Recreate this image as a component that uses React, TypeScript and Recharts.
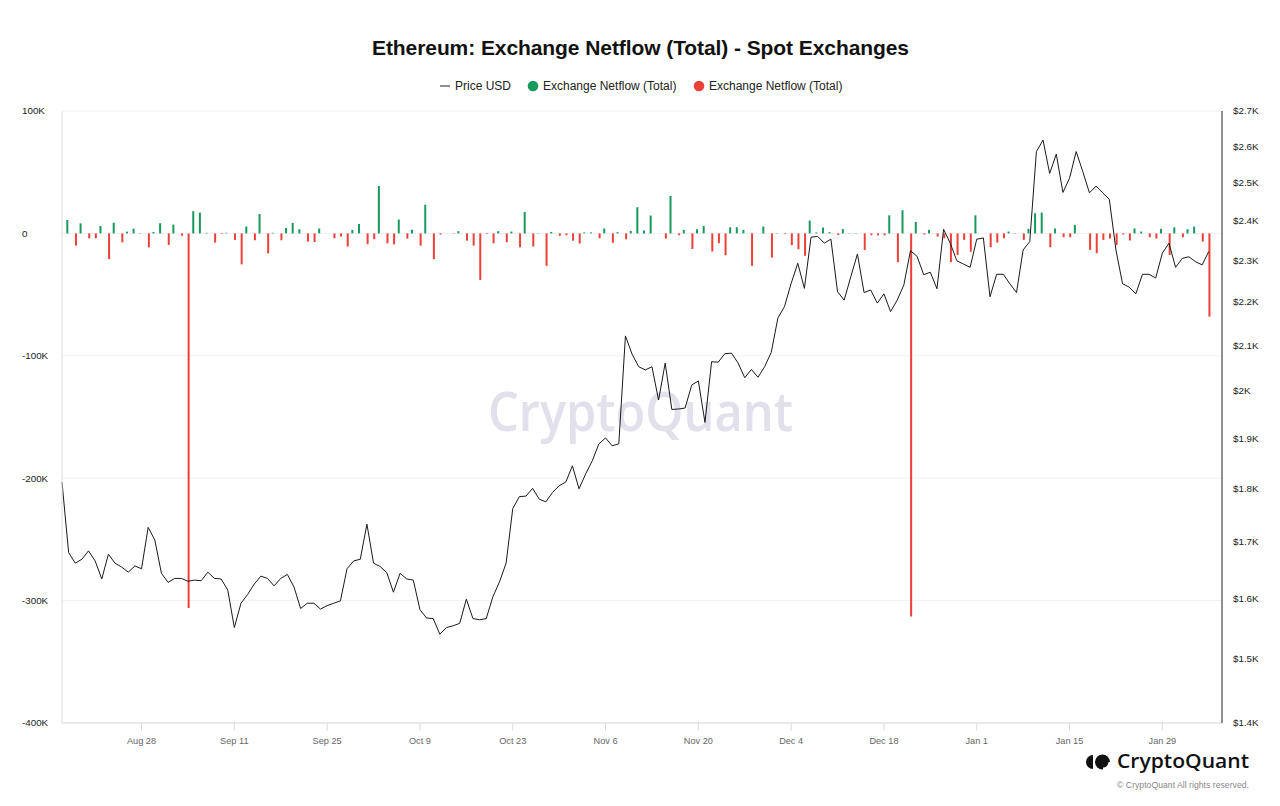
import React from 'react';
import { ComposedChart, Line, Bar, XAxis, YAxis, CartesianGrid } from 'recharts';

// Day index 0 = Aug 16, 2023 (daily data through Feb 5, 2024)
const priceUsd: number[] = [
  1813, 1681, 1662, 1669, 1684, 1666, 1634, 1678, 1662, 1655,
  1646, 1657, 1652, 1727, 1704, 1644, 1628, 1635, 1635, 1630,
  1632, 1631, 1646, 1635, 1634, 1615, 1551, 1592, 1607, 1625,
  1639, 1635, 1622, 1635, 1642, 1620, 1583, 1592, 1592, 1582,
  1588, 1592, 1596, 1652, 1666, 1669, 1733, 1662, 1656, 1645,
  1611, 1644, 1634, 1632, 1581, 1567, 1566, 1540, 1551, 1554,
  1558, 1599, 1566, 1564, 1566, 1603, 1629, 1662, 1762, 1785,
  1786, 1801, 1780, 1775, 1793, 1806, 1813, 1845, 1800, 1829,
  1855, 1889, 1901, 1885, 1889, 2121, 2080, 2052, 2045, 2052,
  1980, 2060, 1960, 1961, 1963, 2012, 2021, 1933, 2063, 2062,
  2081, 2082, 2060, 2028, 2046, 2029, 2052, 2084, 2162, 2189,
  2244, 2293, 2232, 2358, 2360, 2343, 2353, 2224, 2204, 2260,
  2316, 2222, 2228, 2197, 2219, 2177, 2204, 2240, 2324, 2310,
  2265, 2271, 2231, 2378, 2343, 2299, 2291, 2283, 2353, 2356,
  2212, 2266, 2266, 2243, 2222, 2326, 2347, 2585, 2617, 2525,
  2578, 2474, 2512, 2585, 2530, 2473, 2491, 2473, 2456, 2326,
  2243, 2235, 2219, 2266, 2266, 2257, 2318, 2343, 2283, 2305,
  2309, 2297, 2289, 2322,
];

const netflowTotal: (number | null)[] = [
  null, 10900, -10000, 8200, -4000, -4000, 6000, -21000, 8700, -7300,
  1400, 3800, 300, -11400, 1200, 8300, -9400, 7200, -2000, -306000,
  18200, 17000, 500, -7500, -500, 500, -5300, -25300, 5600, -5600,
  15800, -16300, 500, -5600, 4500, 8600, 3400, -6700, -7000, 4000,
  0, -4000, -2600, -10800, 2900, 7700, -8800, -4800, 38700, -8000,
  -9000, 11300, -4200, 2900, -10000, 23400, -21000, -1000, 0, -300,
  1800, -5900, -10000, -38000, -500, -8000, 1800, -7200, 1500, -11300,
  17600, -10700, 300, -26500, 1200, -2000, -1500, -6000, -8300, 800,
  800, -4000, 4000, -7700, 1000, -4800, 2000, 21400, 2300, 14600,
  0, -4200, 30600, -1500, 2900, -12700, 3400, 6100, -14800, -8000,
  -17800, 5000, 5000, 2900, -26500, 0, 5600, -19700, 300, -500,
  -9600, -12900, -18300, 10500, 800, 4800, 1000, -1300, 3500, 300,
  300, -13500, -1500, -1500, -1500, 14800, -23500, 18900, -313000, 9400,
  -1000, 2900, -2600, -4000, -23500, -17600, -5300, -15000, 14800, 0,
  -11300, -7500, -4000, 1500, 300, -5300, 3700, 16500, 17000, -11300,
  4000, -3100, -3100, 7000, 0, -13500, -16200, -5300, -4200, -9400,
  -1000, -5800, 4000, 1500, -3100, -4200, 3700, -17600, 5000, -3100,
  3400, 5600, -6700, -68000,
];

const xTickDays: number[] = [12, 26, 40, 54, 68, 82, 96, 110, 124, 138, 152, 166];
const xTickLabels: string[] = [
  'Aug 28', 'Sep 11', 'Sep 25', 'Oct 9', 'Oct 23', 'Nov 6',
  'Nov 20', 'Dec 4', 'Dec 18', 'Jan 1', 'Jan 15', 'Jan 29',
];
const leftTicks: number[] = [-400000, -300000, -200000, -100000, 0, 100000];
const rightTicks: number[] = [1400, 1500, 1600, 1700, 1800, 1900, 2000, 2100, 2200, 2300, 2400, 2500, 2600, 2700];

const GREEN = '#17985c';
const RED = '#ea4038';
const FONT = '"Liberation Sans", Arial, Helvetica, sans-serif';

const data = priceUsd.map((p, i) => {
  const v = netflowTotal[i];
  return {
    day: i,
    price: p,
    inflow: v != null && v > 0 ? v : null,
    outflow: v != null && v < 0 ? v : null,
  };
});

const fmtLeft = (v: number) => (v === 0 ? '0' : `${v / 1000}K`);
const fmtRight = (v: number) => `$${v / 1000}K`;

const LeftTick = (props: any) => (
  <text x={22} y={props.y} dy={3.4} textAnchor="start" fontSize={9.8} fill="#222" fontFamily={FONT}>
    {fmtLeft(props.payload.value)}
  </text>
);

const RightTick = (props: any) => (
  <text x={1233} y={props.y} dy={3.4} textAnchor="start" fontSize={9.8} fill="#222" fontFamily={FONT}>
    {fmtRight(props.payload.value)}
  </text>
);

const BottomTick = (props: any) => {
  const idx = xTickDays.indexOf(props.payload.value);
  return (
    <text x={props.x} y={744} textAnchor="middle" fontSize={9.2} fill="#666" fontFamily={FONT}>
      {idx >= 0 ? xTickLabels[idx] : ''}
    </text>
  );
};

const Backdrop = () => (
  <svg width={1280} height={806} style={{ position: 'absolute', left: 0, top: 0 }}>
    <text x={640.5} y={55} textAnchor="middle" fontSize={21} fontWeight={700} fill="#111" fontFamily={FONT}
      textLength={537} lengthAdjust="spacing">
      Ethereum: Exchange Netflow (Total) - Spot Exchanges
    </text>
    {/* legend */}
    <line x1={440} y1={86} x2={450} y2={86} stroke="#222" strokeWidth={1} />
    <text x={455} y={90.3} fontSize={12} fill="#222" fontFamily={FONT}>Price USD</text>
    <circle cx={533} cy={86} r={5.3} fill={GREEN} />
    <text x={543} y={90.3} fontSize={12} fill="#222" fontFamily={FONT}>Exchange Netflow (Total)</text>
    <circle cx={699} cy={86} r={5.3} fill={RED} />
    <text x={709} y={90.3} fontSize={12} fill="#222" fontFamily={FONT}>Exchange Netflow (Total)</text>
    {/* watermark */}
    <text x={640.5} y={431} textAnchor="middle" fontSize={54} fontWeight={600} fill="#e1e0eb" fontFamily='"Open Sans", sans-serif'
      textLength={305} lengthAdjust="spacingAndGlyphs">
      CryptoQuant
    </text>
    {/* logo */}
    <path d="M1093,755 A7,7 0 0 0 1093,769 Z" fill="#111" />
    <circle cx={1102.5} cy={762} r={7.5} fill="#111" />
    <path d="M1103,762 L1111,762 L1111,770 L1103,770 Z" fill="#fff" />
    <path d="M1103,762 L1108.5,762 A5.5,5.5 0 0 1 1103,767.5 Z" fill="#111" />
    <text x={1249} y={768} textAnchor="end" fontSize={19} fontWeight={600} fill="#111"
      fontFamily='"Open Sans", sans-serif' textLength={132} lengthAdjust="spacingAndGlyphs">
      CryptoQuant
    </text>
    <text x={1249} y={788} textAnchor="end" fontSize={8.7} fill="#888" fontFamily={FONT}>
      © CryptoQuant All rights reserved.
    </text>
  </svg>
);

export default function App() {
  return (
    <div style={{ position: 'absolute', left: 0, top: 0, width: 1280, height: 806, background: '#fff', overflow: 'hidden' }}>
      <Backdrop />
      <div style={{ position: 'absolute', left: 0, top: 0 }}>
        <ComposedChart
          width={1280}
          height={806}
          data={data}
          margin={{ top: 111, right: 0, bottom: 0, left: 0 }}
          barGap={0}
        >
          <CartesianGrid yAxisId="left" vertical={false} stroke="#f1f1f3" />
          <XAxis
            dataKey="day"
            type="number"
            domain={[0, 175]}
            ticks={xTickDays}
            interval={0}
            height={83}
            axisLine={{ stroke: '#dcdcdc' }}
            tickLine={{ stroke: '#dcdcdc' }}
            tickSize={8}
            tick={BottomTick}
          />
          <YAxis
            yAxisId="left"
            orientation="left"
            width={62}
            domain={[-400000, 100000]}
            ticks={leftTicks}
            interval={0}
            axisLine={{ stroke: '#dcdcdc' }}
            tickLine={false}
            tick={LeftTick}
          />
          <YAxis
            yAxisId="right"
            orientation="right"
            width={58}
            scale="log"
            domain={[1400, 2700]}
            ticks={rightTicks}
            interval={0}
            allowDataOverflow
            axisLine={{ stroke: '#222' }}
            tickLine={false}
            tick={RightTick}
          />
          <Bar yAxisId="left" dataKey="inflow" name="Exchange Netflow (Total)" fill={GREEN} barSize={2} isAnimationActive={false} />
          <Bar yAxisId="left" dataKey="outflow" name="Exchange Netflow (Total)" fill={RED} barSize={2} isAnimationActive={false} />
          <Line
            yAxisId="right"
            dataKey="price"
            name="Price USD"
            stroke="#1a1a1a"
            strokeWidth={1}
            dot={false}
            isAnimationActive={false}
          />
        </ComposedChart>
      </div>
    </div>
  );
}
